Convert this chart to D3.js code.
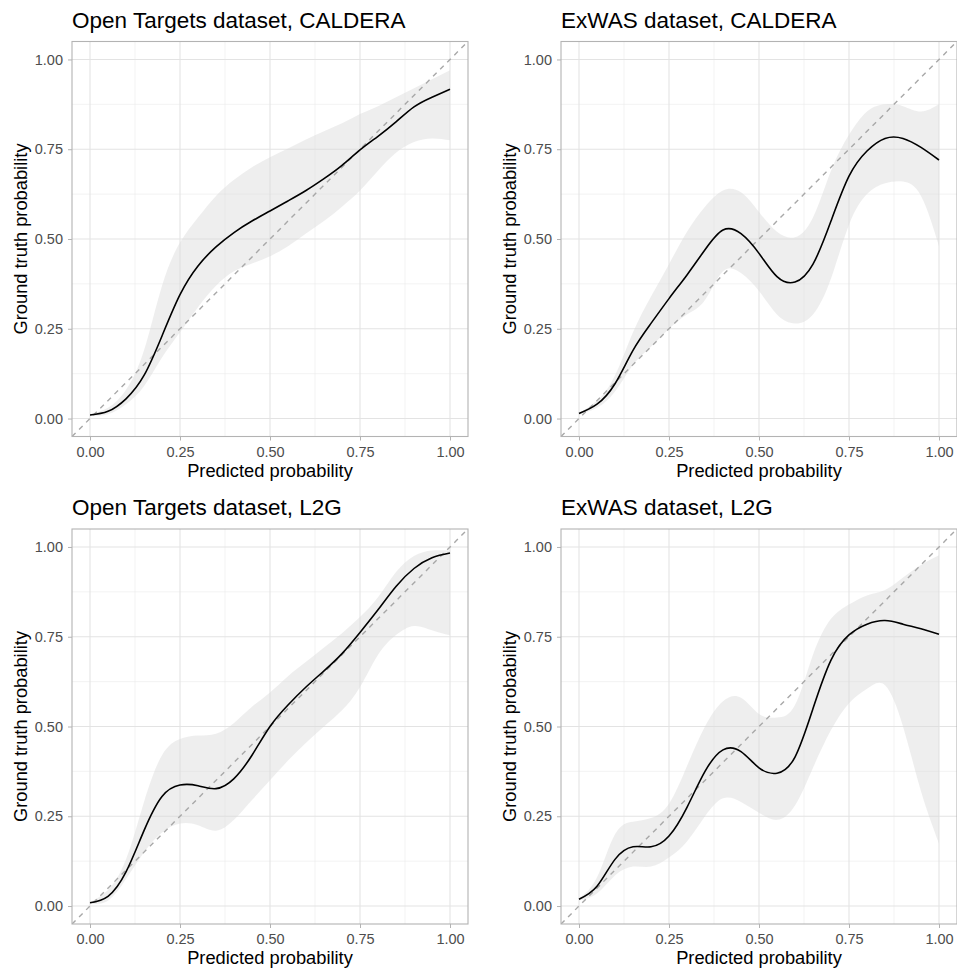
<!DOCTYPE html>
<html>
<head>
<meta charset="utf-8">
<script src="https://cdn.jsdelivr.net/npm/d3@7"></script>
<style>
  body { margin: 0; background: #fff; }
  text { font-family: "Liberation Sans", Arial, sans-serif; }
</style>
</head>
<body>
<div id="chart"></div>
<script>
// predicted probability grid shared by all panels
var xGrid = [0, 0.05, 0.1, 0.15, 0.2, 0.25, 0.3, 0.35, 0.4, 0.45, 0.5,
             0.55, 0.6, 0.65, 0.7, 0.75, 0.8, 0.85, 0.9, 0.95, 1.0];

var panelTitles = ["Open Targets dataset, CALDERA", "ExWAS dataset, CALDERA",
                   "Open Targets dataset, L2G", "ExWAS dataset, L2G"];

var tickValues = [0, 0.25, 0.5, 0.75, 1];
var minorTicks = [0.125, 0.375, 0.625, 0.875];

// Open Targets, CALDERA
var otCalderaFit = [0.01, 0.02, 0.055, 0.12, 0.23, 0.345, 0.425, 0.478, 0.518, 0.55, 0.578,
                    0.606, 0.635, 0.668, 0.705, 0.748, 0.786, 0.826, 0.868, 0.895, 0.917];
var otCalderaLow = [0.008, 0.012, 0.04, 0.09, 0.17, 0.24, 0.31, 0.37, 0.41, 0.432, 0.452,
                    0.48, 0.515, 0.55, 0.59, 0.635, 0.69, 0.74, 0.77, 0.78, 0.775];
var otCalderaHigh = [0.012, 0.03, 0.08, 0.19, 0.37, 0.49, 0.56, 0.62, 0.665, 0.70, 0.728,
                     0.752, 0.777, 0.80, 0.822, 0.848, 0.87, 0.895, 0.92, 0.945, 0.97];

// ExWAS, CALDERA
var exCalderaFit = [0.014, 0.04, 0.097, 0.19, 0.265, 0.334, 0.40, 0.47, 0.525, 0.515, 0.46,
                    0.395, 0.38, 0.43, 0.55, 0.675, 0.745, 0.78, 0.78, 0.755, 0.72];
var exCalderaLow = [0.012, 0.03, 0.075, 0.15, 0.2, 0.25, 0.29, 0.33, 0.41, 0.405, 0.355,
                    0.29, 0.265, 0.29, 0.39, 0.54, 0.625, 0.655, 0.66, 0.62, 0.48];
var exCalderaHigh = [0.016, 0.05, 0.12, 0.24, 0.34, 0.43, 0.52, 0.59, 0.635, 0.63, 0.575,
                     0.52, 0.505, 0.56, 0.69, 0.79, 0.855, 0.875, 0.87, 0.855, 0.875];

// Open Targets, L2G
var otL2gFit = [0.009, 0.027, 0.095, 0.21, 0.305, 0.337, 0.335, 0.327, 0.355, 0.42, 0.5,
                0.56, 0.61, 0.655, 0.703, 0.762, 0.825, 0.89, 0.94, 0.97, 0.983];
var otL2gLow = [0.007, 0.015, 0.075, 0.15, 0.205, 0.23, 0.225, 0.21, 0.24, 0.295, 0.35,
                0.405, 0.455, 0.5, 0.545, 0.61, 0.7, 0.755, 0.78, 0.768, 0.754];
var otL2gHigh = [0.011, 0.045, 0.13, 0.29, 0.42, 0.465, 0.475, 0.48, 0.51, 0.555, 0.595,
                 0.64, 0.68, 0.72, 0.76, 0.805, 0.86, 0.93, 0.975, 0.99, 0.99];

// ExWAS, L2G
var exL2gFit = [0.019, 0.055, 0.13, 0.165, 0.165, 0.195, 0.275, 0.375, 0.435, 0.43, 0.385,
                0.37, 0.415, 0.55, 0.685, 0.755, 0.785, 0.795, 0.785, 0.772, 0.757];
var exL2gLow = [0.016, 0.035, 0.085, 0.11, 0.11, 0.135, 0.18, 0.25, 0.3, 0.29, 0.26,
                0.24, 0.28, 0.385, 0.49, 0.565, 0.605, 0.615, 0.5, 0.32, 0.174];
var exL2gHigh = [0.022, 0.08, 0.2, 0.235, 0.245, 0.285, 0.39, 0.5, 0.57, 0.58, 0.535,
                 0.525, 0.56, 0.7, 0.8, 0.84, 0.865, 0.88, 0.915, 0.95, 0.977];

var panels = [
    {title: panelTitles[0], fit: otCalderaFit, low: otCalderaLow, high: otCalderaHigh},
    {title: panelTitles[1], fit: exCalderaFit, low: exCalderaLow, high: exCalderaHigh},
    {title: panelTitles[2], fit: otL2gFit, low: otL2gLow, high: otL2gHigh},
    {title: panelTitles[3], fit: exL2gFit, low: exL2gLow, high: exL2gHigh}
];

var width = 957, height = 971;
var colLeft = [72, 561], rowTop = [41.5, 529];
var pw = 396, ph = 395;

var svg = d3.select("#chart").append("svg")
    .attr("width", width)
    .attr("height", height);

panels.forEach(function (p, i) {
    var left = colLeft[i % 2], top = rowTop[Math.floor(i / 2)];

    var x = d3.scaleLinear().domain([-0.05, 1.05]).range([0, pw]);
    var y = d3.scaleLinear().domain([-0.05, 1.05]).range([ph, 0]);

    var g = svg.append("g").attr("transform", "translate(" + left + "," + top + ")");

    g.append("clipPath").attr("id", "clip" + i)
        .append("rect").attr("width", pw).attr("height", ph);

    // grid
    g.selectAll(".minx").data(minorTicks).enter().append("line")
        .attr("x1", d => x(d)).attr("x2", d => x(d)).attr("y1", 0).attr("y2", ph)
        .style("stroke", "#ebebeb").style("stroke-width", 0.6);
    g.selectAll(".miny").data(minorTicks).enter().append("line")
        .attr("y1", d => y(d)).attr("y2", d => y(d)).attr("x1", 0).attr("x2", pw)
        .style("stroke", "#ebebeb").style("stroke-width", 0.6);
    g.selectAll(".majx").data(tickValues).enter().append("line")
        .attr("x1", d => x(d)).attr("x2", d => x(d)).attr("y1", 0).attr("y2", ph)
        .style("stroke", "#e3e3e3").style("stroke-width", 1.1);
    g.selectAll(".majy").data(tickValues).enter().append("line")
        .attr("y1", d => y(d)).attr("y2", d => y(d)).attr("x1", 0).attr("x2", pw)
        .style("stroke", "#e3e3e3").style("stroke-width", 1.1);

    var rows = xGrid.map(function (v, k) {
        return {x: v, fit: p.fit[k], low: p.low[k], high: p.high[k]};
    });

    var plot = g.append("g").attr("clip-path", "url(#clip" + i + ")");

    var band = d3.area()
        .x(d => x(d.x))
        .y0(d => y(d.low))
        .y1(d => y(d.high))
        .curve(d3.curveNatural);

    plot.append("path").datum(rows)
        .attr("d", band)
        .style("fill", "#d9d9d9")
        .style("fill-opacity", 0.45);

    // identity line
    plot.append("line")
        .attr("x1", x(-0.05)).attr("y1", y(-0.05))
        .attr("x2", x(1.05)).attr("y2", y(1.05))
        .style("stroke", "#a8a8a8")
        .style("stroke-width", 1.4)
        .style("stroke-dasharray", "5,5");

    var line = d3.line()
        .x(d => x(d.x))
        .y(d => y(d.fit))
        .curve(d3.curveNatural);

    plot.append("path").datum(rows)
        .attr("d", line)
        .style("fill", "none")
        .style("stroke", "#000")
        .style("stroke-width", 1.6);

    // axes
    var xAxis = d3.axisBottom(x).tickValues(tickValues).tickSize(4).tickPadding(6)
        .tickFormat(d3.format(".2f"));
    var yAxis = d3.axisLeft(y).tickValues(tickValues).tickSize(4).tickPadding(5)
        .tickFormat(d3.format(".2f"));

    var gx = g.append("g").attr("transform", "translate(0," + ph + ")").call(xAxis);
    var gy = g.append("g").call(yAxis);
    [gx, gy].forEach(function (ax) {
        ax.select(".domain").remove();
        ax.selectAll(".tick line").style("stroke", "#b3b3b3");
        ax.selectAll(".tick text")
            .style("font-size", "14.5px")
            .style("fill", "#4d4d4d")
            .style("font-family", "Liberation Sans, Arial, sans-serif");
    });

    g.append("rect")
        .attr("width", pw).attr("height", ph)
        .style("fill", "none")
        .style("stroke", "#b3b3b3")
        .style("stroke-width", 1.1);

    g.append("text")
        .attr("x", 0).attr("y", -14)
        .style("font-size", "22.5px")
        .style("fill", "#000")
        .text(p.title);

    g.append("text")
        .attr("x", pw / 2).attr("y", ph + 40)
        .attr("text-anchor", "middle")
        .style("font-size", "18.3px")
        .style("fill", "#000")
        .text("Predicted probability");

    g.append("text")
        .attr("transform", "translate(-45," + (ph / 2) + ") rotate(-90)")
        .attr("text-anchor", "middle")
        .style("font-size", "18.3px")
        .style("fill", "#000")
        .text("Ground truth probability");
});
</script>
</body>
</html>
